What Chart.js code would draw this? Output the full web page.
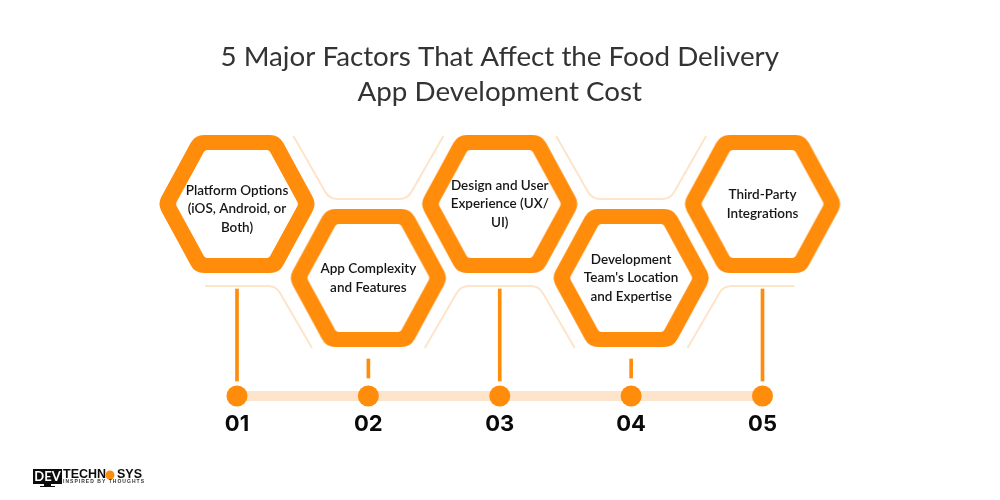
<!DOCTYPE html>
<html><head><meta charset="utf-8">
<style>html,body{margin:0;padding:0;background:#fff}#wrap{position:relative;width:1000px;height:500px}</style>
<script src="https://cdn.jsdelivr.net/npm/chart.js@4/dist/chart.umd.min.js"></script>
</head><body><div id="wrap"><canvas id="c" width="1000" height="500"></canvas></div>
<script>
const titleLines = ['5 Major Factors That Affect the Food Delivery', 'App Development Cost'];
const categories = ['01', '02', '03', '04', '05'];
const factorLines = [
  ['Platform Options', '(iOS, Android, or', 'Both)'],
  ['App Complexity', 'and Features'],
  ['Design and User', 'Experience (UX/', 'UI)'],
  ['Development', "Team's Location", 'and Expertise'],
  ['Third-Party', 'Integrations']
];
const timelineValues = [0, 0, 0, 0, 0];
const hexLevels = [192, 118, 192, 118, 192];
const stemRanges = [[15, 107], [18, 37], [15, 107], [18, 37], [15, 107]];
const logoWords = ['DEV', 'TECHN', 'SYS', 'INSPIRED BY THOUGHTS'];

const ORANGE = '#FF8C0B', PALE = '#FDE4CA', FONT = 'Lato, sans-serif';

function roundedPoly(ctx, pts, r) {
  ctx.beginPath();
  const n = pts.length;
  const mid = (a, b) => [(a[0] + b[0]) / 2, (a[1] + b[1]) / 2];
  const s = mid(pts[n - 1], pts[0]);
  ctx.moveTo(s[0], s[1]);
  for (let i = 0; i < n; i++) {
    const p = pts[i], q = pts[(i + 1) % n];
    const m = mid(p, q);
    ctx.arcTo(p[0], p[1], m[0], m[1], r);
    ctx.lineTo(m[0], m[1]);
  }
  ctx.closePath();
}
function hexPts(cx, cy, w, h, t) {
  return [[cx - t, cy - h], [cx + t, cy - h], [cx + w, cy], [cx + t, cy + h], [cx - t, cy + h], [cx - w, cy]];
}
function makeHexImage() {
  const cv = document.createElement('canvas');
  cv.width = 170; cv.height = 150;
  const g = cv.getContext('2d');
  g.fillStyle = ORANGE;
  roundedPoly(g, hexPts(85, 75, 79.5, 69, 42), 15);
  g.fill();
  g.fillStyle = '#fff';
  roundedPoly(g, hexPts(85, 75, 61.5, 54, 32), 4);
  g.fill();
  return cv;
}
const hexImage = makeHexImage();

const framesPlugin = {
  id: 'frames',
  beforeDatasetsDraw(chart) {
    const { ctx, scales: { x, y } } = chart;
    ctx.save();
    ctx.strokeStyle = PALE; ctx.lineWidth = 2; ctx.lineJoin = 'round';
    categories.forEach((c, i) => {
      const cx = x.getPixelForValue(i), cy = y.getPixelForValue(hexLevels[i]);
      const upper = hexLevels[i] > 150;
      const flat = upper ? cy + 82 : cy - 79;
      const end = upper ? cy + 144 : cy - 142;
      const leg = 75, t = 39;
      ctx.beginPath();
      if (i === 0) {
        ctx.moveTo(cx - 32, flat);
      } else {
        ctx.moveTo(cx - leg, end);
        ctx.arcTo(cx - t, flat, cx, flat, 14);
      }
      if (i === categories.length - 1) {
        ctx.lineTo(cx + 32, flat);
      } else {
        ctx.arcTo(cx + t, flat, cx + leg, end, 14);
        ctx.lineTo(cx + leg, end);
      }
      ctx.stroke();
    });
    ctx.restore();
  }
};

const labelsPlugin = {
  id: 'labels',
  afterDatasetsDraw(chart) {
    const { ctx, scales: { x, y } } = chart;
    ctx.save();
    ctx.fillStyle = '#161616'; ctx.textAlign = 'center'; ctx.textBaseline = 'middle';
    ctx.font = '600 13.5px ' + FONT;
    factorLines.forEach((lines, i) => {
      const cx = x.getPixelForValue(i), cy = y.getPixelForValue(hexLevels[i]) + (i === 0 ? 5 : 0);
      lines.forEach((t, k) => ctx.fillText(t, cx, cy + (k - (lines.length - 1) / 2) * 18.6));
    });
    // logo
    ctx.fillStyle = '#0c0c0c';
    ctx.fillRect(33, 469, 29, 15);
    ctx.fillRect(44, 484, 7, 2);
    ctx.fillRect(40, 486, 15, 1);
    ctx.fillStyle = '#fff'; ctx.font = '700 13px ' + FONT; ctx.textAlign = 'center';
    ctx.fillText(logoWords[0], 47.5, 477);
    ctx.fillStyle = '#0c0c0c'; ctx.font = '700 12.5px "Liberation Sans", sans-serif'; ctx.textAlign = 'left';
    ctx.fillText(logoWords[1], 63, 474.5);
    ctx.fillText(logoWords[2], 117, 474.5);
    ctx.fillStyle = ORANGE;
    ctx.beginPath(); ctx.arc(110, 475, 4.5, 0, Math.PI * 2); ctx.fill();
    ctx.fillStyle = '#333'; ctx.font = '600 5px "Liberation Sans", sans-serif';
    ctx.letterSpacing = '1.03px';
    ctx.fillText(logoWords[3], 63, 481.5);
    ctx.letterSpacing = '0px';
    ctx.restore();
  }
};

new Chart(document.getElementById('c'), {
  type: 'line',
  data: {
    labels: categories,
    datasets: [
      { label: 'Timeline', data: timelineValues, borderColor: PALE, borderWidth: 10, pointRadius: 10.5,
        pointBackgroundColor: ORANGE, pointBorderWidth: 0, clip: false, order: 3, tension: 0 },
      { type: 'bar', label: 'Stems', data: stemRanges, backgroundColor: ORANGE, barThickness: 3, clip: false, order: 2 },
      { label: 'Factors', data: hexLevels, showLine: false, pointStyle: hexImage, pointRadius: 10, clip: false, order: 1 }
    ]
  },
  options: {
    responsive: false, animation: false, devicePixelRatio: 1,
    layout: { padding: { left: 171.3, right: 171.8, top: 0, bottom: 64 } },
    plugins: {
      legend: { display: false }, tooltip: { enabled: false },
      title: { display: true, text: titleLines, color: '#333333',
        font: { family: FONT, size: 27.75, weight: '400', lineHeight: 35 / 27.75 },
        padding: { top: 40, bottom: 10 } }
    },
    scales: {
      x: { type: 'category', offset: true, grid: { display: false, drawTicks: false }, border: { display: false },
        afterFit(s) { s.height = 40; },
        ticks: { color: '#0a0a0a', padding: 15, maxRotation: 0, autoSkip: false,
          font: { family: 'Inter, sans-serif', size: 22, weight: '700' } } },
      y: { display: false, min: 0, max: 276 }
    }
  },
  plugins: [framesPlugin, labelsPlugin]
});
</script></body></html>
